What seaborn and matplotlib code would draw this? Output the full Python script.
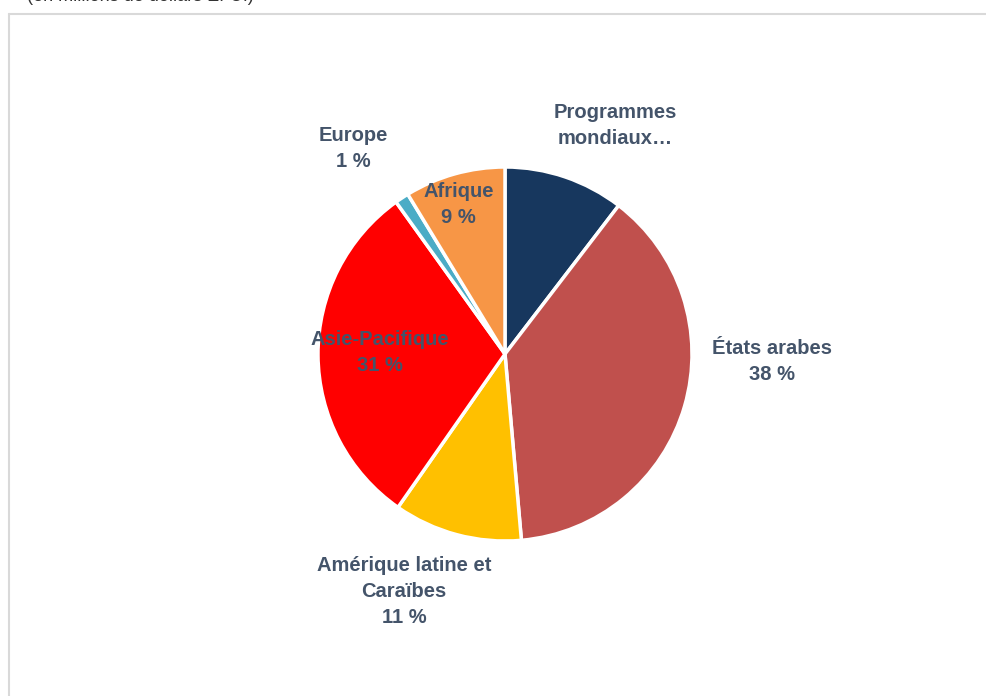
import matplotlib
matplotlib.use("Agg")
import matplotlib.pyplot as plt
import seaborn as sns
from matplotlib.lines import Line2D

# shares (percent, clockwise from 12 o'clock)
regions = ["Programmes mondiaux", "États arabes", "Amérique latine et Caraïbes",
           "Asie-Pacifique", "Europe", "Afrique"]
shares = [10.4, 38.2, 11.1, 30.4, 1.2, 8.7]
label_texts = ["Programmes\nmondiaux…", "États arabes\n38 %", "Amérique latine et\nCaraïbes\n11 %",
               "Asie-Pacifique\n31 %", "Europe\n1 %", "Afrique\n9 %"]
colors = ["#17375E", "#C0504D", "#FFC000", "#FF0000", "#4BACC6", "#F79646"]

# label positions in pie radius units
label_pos = [(0.59, 1.22), (1.43, -0.04), (-0.54, -1.27),
             (-0.67, 0.01), (-0.81, 1.10), (-0.25, 0.80)]

sns.set_theme(style="white")
plt.rcParams['font.family'] = ['Liberation Sans', 'DejaVu Sans']

W, H = 986, 696
fig = plt.figure(figsize=(W / 100, H / 100), dpi=100)
ax = fig.add_axes([0, 0, 1, 1])

pal = sns.color_palette(colors)
ax.pie(shares, colors=pal, startangle=90, counterclock=False, radius=1.0,
       wedgeprops=dict(edgecolor="white", linewidth=2.5))

R = 187.0
cx, cy = 505, 354
ax.set_xlim(-cx / R, (W - cx) / R)
ax.set_ylim((cy - H) / R, cy / R)
ax.set_aspect("auto")
ax.axis("off")

for txt, (lx, ly) in zip(label_texts, label_pos):
    ax.text(lx, ly, txt, ha="center", va="center", fontsize=14.5, fontweight="bold",
            color="#44546A", linespacing=1.45)

# chart frame (only left and top edges visible)
fig.add_artist(Line2D([8.5 / W, 8.5 / W], [0, 1 - 13.5 / H], transform=fig.transFigure,
                      color="#D9D9D9", linewidth=1.5))
fig.add_artist(Line2D([8.5 / W, 1], [1 - 13.5 / H, 1 - 13.5 / H], transform=fig.transFigure,
                      color="#D9D9D9", linewidth=1.5))

# clipped caption at the very top
fig.text(27 / W, 1 - 1 / H, "(en millions de dollars É.-U.)", ha="left", va="baseline",
         fontsize=13, color="#333333")

plt.savefig("out.png", dpi=100)
print("end")
